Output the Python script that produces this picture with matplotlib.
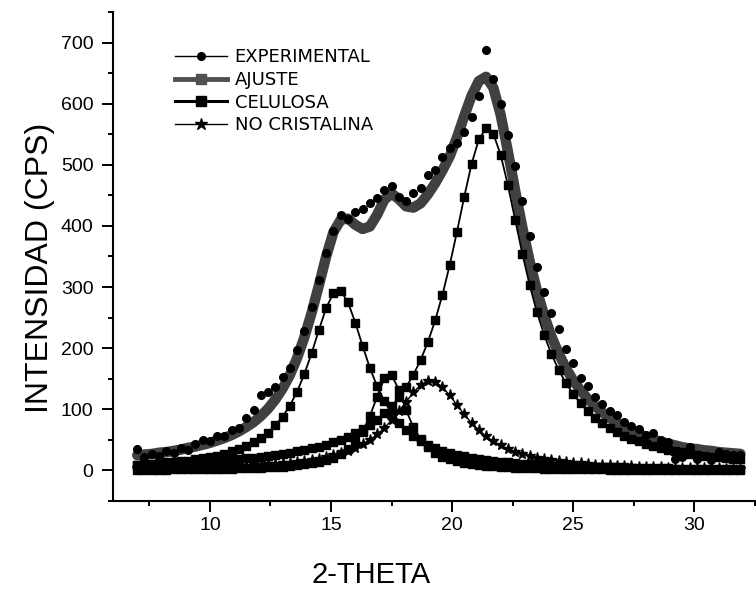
import numpy as np
import matplotlib.pyplot as plt
from matplotlib.lines import Line2D
from matplotlib.ticker import MultipleLocator

# 2-theta (grados), paso del difractograma
two_theta = [7.0, 7.3, 7.6, 7.9, 8.2, 8.5, 8.8, 9.1, 9.4, 9.7,
             10.0, 10.3, 10.6, 10.9, 11.2, 11.5, 11.8, 12.1, 12.4, 12.7,
             13.0, 13.3, 13.6, 13.9, 14.2, 14.5, 14.8, 15.1, 15.4, 15.7,
             16.0, 16.3, 16.6, 16.9, 17.2, 17.5, 17.8, 18.1, 18.4, 18.7,
             19.0, 19.3, 19.6, 19.9, 20.2, 20.5, 20.8, 21.1, 21.4, 21.7,
             22.0, 22.3, 22.6, 22.9, 23.2, 23.5, 23.8, 24.1, 24.4, 24.7,
             25.0, 25.3, 25.6, 25.9, 26.2, 26.5, 26.8, 27.1, 27.4, 27.7,
             28.0, 28.3, 28.6, 28.9, 29.2, 29.5, 29.8, 30.1, 30.4, 30.7,
             31.0, 31.3, 31.6, 31.9]

experimental = [35, 22, 27, 24, 31, 29, 36, 33, 44, 50,
                48, 57, 56, 66, 70, 86, 99, 124, 128, 136,
                153, 168, 197, 228, 268, 312, 356, 392, 418, 412,
                422, 428, 438, 446, 459, 466, 447, 440, 454, 462,
                484, 492, 513, 528, 536, 553, 578, 612, 688, 640,
                600, 548, 498, 440, 383, 333, 292, 258, 232, 198,
                176, 152, 138, 120, 108, 97, 90, 80, 72, 68,
                58, 61, 50, 47, 18, 22, 38, 19, 24, 17,
                30, 27, 26, 25]

ajuste = [25, 26, 27, 29, 30, 32, 34, 37, 39, 42,
          45, 49, 53, 58, 64, 71, 79, 89, 101, 116,
          134, 156, 184, 218, 258, 303, 350, 390, 410, 412,
          402, 395, 399, 418, 443, 453, 444, 432, 430, 437,
          452, 470, 491, 514, 545, 580, 613, 637, 644, 626,
          582, 522, 458, 397, 342, 294, 253, 219, 191, 167,
          147, 131, 117, 105, 95, 86, 78, 71, 65, 60,
          55, 51, 47, 44, 41, 38, 36, 35, 33, 32,
          30, 29, 28, 27]

# picos cristalinos (celulosa)
celulosa_1 = [9, 10, 11, 12, 13, 14, 15, 16, 18, 20,
              22, 24, 27, 31, 35, 40, 46, 53, 62, 74,
              88, 106, 129, 158, 192, 230, 266, 290, 294, 275,
              242, 204, 168, 138, 113, 94, 78, 66, 56, 48,
              42, 36, 32, 28, 25, 23, 20, 18, 17, 15,
              14, 13, 12, 11, 10, 10, 9, 8, 8, 7,
              7, 6, 6, 6, 5, 5, 5, 5, 4, 4,
              4, 4, 4, 4, 3, 3, 3, 3, 3, 3,
              3, 3, 2, 2]

celulosa_2 = [1.2, 1.2, 1.3, 1.4, 1.5, 1.6, 1.7, 1.8, 2.0, 2.1,
              2.3, 2.5, 2.7, 3.0, 3.3, 3.6, 4.0, 4.4, 5.0, 5.6,
              6.3, 7.3, 8.4, 9.8, 11.6, 13.9, 16.9, 21.0, 26.6, 34.6,
              46.2, 63.4, 88.3, 120.7, 150.6, 156.1, 131.9, 98.4, 70.7, 51.2,
              38.0, 29.0, 22.7, 18.1, 14.8, 12.3, 10.3, 8.8, 7.6, 6.6,
              5.8, 5.1, 4.6, 4.1, 3.7, 3.3, 3.0, 2.8, 2.5, 2.3,
              2.2, 2.0, 1.9, 1.7, 1.6, 1.5, 1.4, 1.3, 1.3, 1.2,
              1.1, 1.1, 1.0, 1.0, 0.9, 0.9, 0.8, 0.8, 0.8, 0.7,
              0.7, 0.7, 0.6, 0.6]

celulosa_3 = [9.5, 9.9, 10.4, 10.8, 11.3, 11.8, 12.4, 13.0, 13.6, 14.3,
              15.0, 15.8, 16.7, 17.6, 18.6, 19.7, 20.9, 22.2, 23.6, 25.2,
              26.9, 28.9, 31.0, 33.3, 36.0, 38.9, 42.3, 46.0, 50.3, 55.1,
              60.7, 67.1, 74.5, 83.2, 93.3, 105.3, 119.4, 136.3, 156.6, 180.9,
              210.3, 245.6, 287.5, 336.2, 390.8, 448.0, 501.3, 541.6, 559.6, 550.5,
              516.7, 466.7, 409.9, 353.9, 303.0, 258.8, 221.3, 190.1, 164.2, 142.6,
              124.7, 109.7, 97.0, 86.4, 77.2, 69.4, 62.7, 56.9, 51.8, 47.4,
              43.5, 40.0, 36.9, 34.2, 31.7, 29.6, 27.6, 25.8, 24.1, 22.7,
              21.3, 20.1, 19.0, 17.9]

no_cristalina = [3.2, 3.3, 3.5, 3.7, 3.9, 4.1, 4.4, 4.6, 4.9, 5.2,
                 5.5, 5.9, 6.3, 6.8, 7.3, 7.8, 8.4, 9.1, 9.9, 10.8,
                 11.8, 12.9, 14.2, 15.7, 17.5, 19.5, 21.9, 24.7, 28.1, 32.2,
                 37.1, 43.0, 50.2, 58.9, 69.5, 82.1, 96.6, 112.3, 127.7, 140.1,
                 146.5, 145.2, 136.5, 122.8, 107.0, 91.6, 77.7, 65.8, 55.8, 47.6,
                 40.9, 35.3, 30.8, 26.9, 23.8, 21.1, 18.8, 16.9, 15.2, 13.8,
                 12.5, 11.4, 10.5, 9.6, 8.9, 8.2, 7.6, 7.1, 6.6, 6.2,
                 5.8, 5.4, 5.1, 4.8, 4.5, 4.3, 4.0, 3.8, 3.6, 3.5,
                 3.3, 3.1, 3.0, 2.9]

etiquetas = ['EXPERIMENTAL', 'AJUSTE', 'CELULOSA', 'NO CRISTALINA']

gris = '#404040'
fuente_ticks = ['Liberation Sans Narrow', 'Liberation Sans']

fig = plt.figure(figsize=(7.56, 5.9), dpi=100)
ax = fig.add_axes([113/756, 89/590, 642/756, 489/590])

# curvas
ax.plot(two_theta, ajuste, color=gris, lw=7.5, solid_joinstyle='round', solid_capstyle='round', zorder=2)
for serie in (celulosa_1, celulosa_2, celulosa_3):
    ax.plot(two_theta, serie, color='black', lw=1.3, marker='s', ms=6, zorder=3)
ax.plot(two_theta, no_cristalina, color='black', lw=1, marker='*', ms=8, zorder=3)
ax.plot(two_theta, experimental, ls='none', marker='o', ms=5.5, color='black', zorder=4)

# ejes
ax.set_xlim(6, 32.5)
ax.set_ylim(-50, 750)
ax.spines['top'].set_visible(False)
ax.spines['right'].set_visible(False)
ax.spines['left'].set_linewidth(1.5)
ax.spines['bottom'].set_linewidth(1.5)
ax.xaxis.set_major_locator(MultipleLocator(5))
ax.xaxis.set_minor_locator(MultipleLocator(2.5))
ax.yaxis.set_major_locator(MultipleLocator(100))
ax.yaxis.set_minor_locator(MultipleLocator(50))
ax.tick_params(which='major', direction='out', length=8, width=1.4)
ax.tick_params(which='minor', direction='out', length=3.6, width=1.4)
ax.tick_params(axis='x', which='major', pad=3.5)
ax.tick_params(axis='y', which='major', pad=6)
ax.set_yticks([0, 100, 200, 300, 400, 500, 600, 700])
for lbl in ax.get_xticklabels() + ax.get_yticklabels():
    lbl.set_family(fuente_ticks)
    lbl.set_fontsize(14)

ax.set_ylabel('INTENSIDAD (CPS)', fontsize=23, family='Liberation Sans')
ax.yaxis.set_label_coords(-0.09, 0.476)
ax.set_xlabel('2-THETA', fontsize=21, family=['Liberation Sans Narrow', 'Liberation Sans'])
ax.xaxis.set_label_coords(0.402, -0.122)

# leyenda
handles = [
    Line2D([], [], color='black', lw=1, marker='o', ms=5.5),
    Line2D([], [], color='#505050', lw=3.5, marker='s', ms=7),
    Line2D([], [], color='black', lw=2.2, marker='s', ms=7),
    Line2D([], [], color='black', lw=1, marker='*', ms=9),
]
fig.legend(handles, etiquetas, loc='upper left', bbox_to_anchor=(175/756, 1 - 48.5/590),
           frameon=False, borderpad=0, borderaxespad=0, handlelength=2.9,
           handletextpad=0.4, labelspacing=0.25, prop={'family': 'DejaVu Sans', 'size': 13})

fig.savefig('out.png', dpi=100)
